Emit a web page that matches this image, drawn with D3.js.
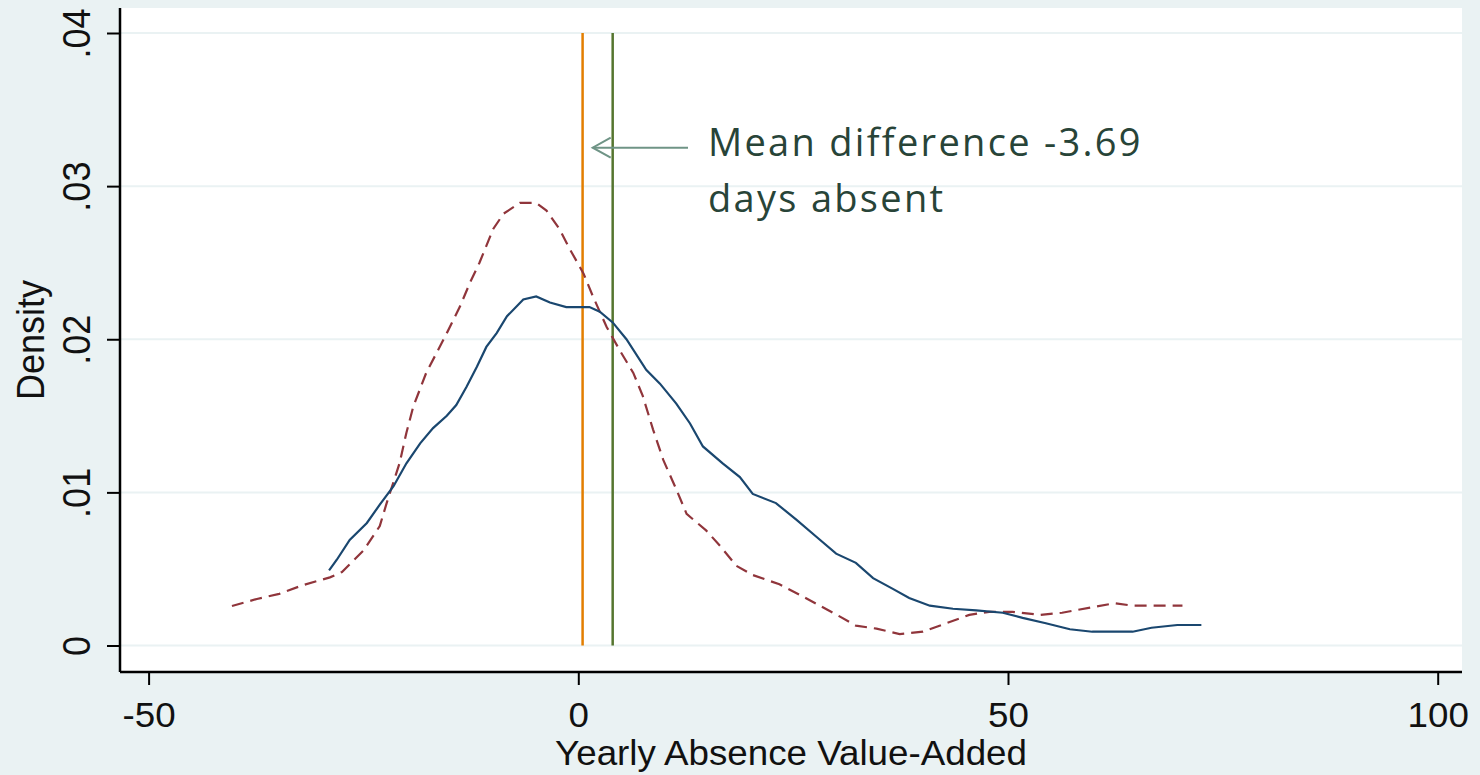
<!DOCTYPE html>
<html>
<head>
<meta charset="utf-8">
<script src="https://cdn.jsdelivr.net/npm/d3@7"></script>
<style>
  body { margin: 0; background: #eaf2f3; }
  svg { display: block; }
  .tick-label { font-family: "Liberation Sans", Arial, sans-serif; fill: #111; }
  .note { font-family: "Open Sans", Lato, sans-serif; fill: #284438; }
</style>
</head>
<body>
<div id="chart"></div>
<script>
// x ticks / y ticks
const xTicks = [-50, 0, 50, 100];
const yTicks = [0, 0.01, 0.02, 0.03, 0.04];
const yTickLabels = ['0', '.01', '.02', '.03', '.04'];

// kernel density, blue solid series
const blueX = [-29.0, -28.1, -26.6, -24.6, -23.1, -21.5, -20.0, -18.4, -16.9, -15.3, -14.2, -13.0, -11.8, -10.7,
  -9.5, -8.3, -6.4, -4.9, -3.3, -1.4, 1.3, 2.5, 4.0, 5.6, 7.9, 9.5, 11.4, 13.0, 14.5, 16.8, 18.8, 20.3,
  23.0, 25.4, 27.7, 30.0, 32.3, 34.3, 36.6, 38.5, 40.9, 43.6, 46.3, 49.4, 51.7, 54.4, 57.2, 59.8, 64.5,
  66.7, 69.7, 72.5];
const blueY = [0.0049, 0.0056, 0.0069, 0.0080, 0.0092, 0.0104, 0.0119, 0.0132, 0.0142, 0.0150, 0.0157, 0.0169,
  0.0182, 0.0195, 0.0204, 0.0215, 0.0226, 0.0228, 0.0224, 0.0221, 0.0221, 0.0218, 0.0211, 0.0200, 0.0180,
  0.0171, 0.0158, 0.0145, 0.0130, 0.0119, 0.0110, 0.0099, 0.0093, 0.0082, 0.0071, 0.0060, 0.0054, 0.0044,
  0.0037, 0.0031, 0.0026, 0.0024, 0.0023, 0.00214, 0.0018, 0.00145, 0.00106, 0.0009, 0.0009, 0.00116,
  0.00134, 0.00134];

// kernel density, red dashed series
const redX = [-40.3, -37.4, -34.8, -32.0, -28.9, -27.5, -25.0, -23.1, -22.3, -20.8, -20.0, -19.2, -17.7, -16.5,
  -15.3, -13.8, -12.6, -11.5, -10.7, -9.9, -8.7, -6.8, -4.9, -3.7, -2.2, -1.0, 0.6, 1.7, 3.3, 4.8, 6.4,
  7.5, 8.7, 9.9, 11.4, 12.6, 14.9, 16.5, 18.4, 20.3, 23.4, 25.8, 28.1, 30.4, 32.3, 34.7, 37.4, 40.1,
  42.8, 45.5, 47.8, 50.5, 53.7, 56.3, 59.8, 62.4, 64.5, 67.5, 70.3];
const redY = [0.00258, 0.00304, 0.00337, 0.00395, 0.00445, 0.0048, 0.0062, 0.0078, 0.0093, 0.0119, 0.0139,
  0.0156, 0.0178, 0.0191, 0.0204, 0.0221, 0.0237, 0.0250, 0.0261, 0.0272, 0.0282, 0.0289, 0.0289, 0.0284,
  0.0272, 0.0259, 0.0243, 0.0228, 0.0208, 0.0193, 0.0178, 0.0163, 0.0141, 0.0121, 0.0102, 0.0086, 0.0075,
  0.0065, 0.0052, 0.0046, 0.0040, 0.0033, 0.0026, 0.0019, 0.0013, 0.0011, 0.00075, 0.0009, 0.00145,
  0.0020, 0.0022, 0.0022, 0.0020, 0.00214, 0.0025, 0.00276, 0.0026, 0.0026, 0.0026];

// mean lines
const meanLines = [
  { value: 0.5, color: '#e37e00' },
  { value: 4.0, color: '#55752f' }
];
const noteLines = ['Mean difference -3.69', 'days absent'];
const xTitle = 'Yearly Absence Value-Added';
const yTitle = 'Density';

const W = 1480, H = 775;
// plot region (white box)
const plot = { left: 120, right: 1462, top: 8, bottom: 672 };

const svg = d3.select('#chart').append('svg')
  .attr('width', W)
  .attr('height', H);

svg.append('rect')
  .attr('width', W).attr('height', H)
  .attr('fill', '#eaf2f3');

svg.append('rect')
  .attr('x', plot.left).attr('y', plot.top)
  .attr('width', plot.right - plot.left)
  .attr('height', plot.bottom - plot.top)
  .attr('fill', '#ffffff');

const x = d3.scaleLinear().domain([-50, 100]).range([148.6, 1437.7]);
const y = d3.scaleLinear().domain([0, 0.04]).range([645.5, 33]);

// gridlines
svg.append('g')
  .selectAll('line')
  .data(yTicks)
  .join('line')
  .attr('x1', plot.left).attr('x2', plot.right)
  .attr('y1', d => y(d)).attr('y2', d => y(d))
  .attr('stroke', '#eaf2f3')
  .attr('stroke-width', 2);

// y axis
const yAxis = svg.append('g')
  .attr('transform', `translate(${plot.left},0)`)
  .call(d3.axisLeft(y).tickValues(yTicks).tickSize(13).tickPadding(17)
    .tickFormat((d, i) => yTickLabels[i]));
yAxis.select('.domain').attr('d', `M0,${plot.top}V${plot.bottom}`);
yAxis.selectAll('line').attr('stroke-width', 2);
yAxis.select('.domain').attr('stroke-width', 2.5);
yAxis.selectAll('text')
  .attr('class', 'tick-label')
  .attr('font-size', 36)
  .attr('x', 0).attr('dy', 0)
  .attr('text-anchor', 'middle')
  .attr('transform', 'translate(-30,0) rotate(-90) scale(1,1.08)');

// x axis
const xAxis = svg.append('g')
  .attr('transform', `translate(0,${plot.bottom})`)
  .call(d3.axisBottom(x).tickValues(xTicks).tickSize(13).tickPadding(8)
    .tickFormat(d => String(d)));
xAxis.select('.domain').attr('d', `M${plot.left},0H${plot.right}`).attr('stroke-width', 2.5);
xAxis.selectAll('line').attr('stroke-width', 2);
xAxis.selectAll('text')
  .attr('class', 'tick-label')
  .attr('font-size', 35)
  .attr('y', 55).attr('dy', 0)
  .attr('transform', 'scale(1.05,1)');

// axis titles
svg.append('text')
  .attr('class', 'tick-label')
  .attr('x', 0).attr('y', 0)
  .attr('font-size', 35)
  .attr('text-anchor', 'middle')
  .attr('transform', `translate(${(plot.left + plot.right) / 2},765) scale(1.05,1)`)
  .text(xTitle);

svg.append('text')
  .attr('class', 'tick-label')
  .attr('x', 0).attr('y', 0)
  .attr('font-size', 36)
  .attr('text-anchor', 'middle')
  .attr('transform', `translate(44,${(plot.top + plot.bottom) / 2}) rotate(-90) scale(1,1.08)`)
  .text(yTitle);

// mean lines
svg.append('g')
  .selectAll('line')
  .data(meanLines)
  .join('line')
  .attr('x1', d => x(d.value)).attr('x2', d => x(d.value))
  .attr('y1', y(0)).attr('y2', y(0.04))
  .attr('stroke', d => d.color)
  .attr('stroke-width', 2.5);

// density curves
const line = d3.line()
  .x(d => x(d[0]))
  .y(d => y(d[1]));

svg.append('path')
  .datum(redX.map((v, i) => [v, redY[i]]))
  .attr('d', line)
  .attr('fill', 'none')
  .attr('stroke', '#90353b')
  .attr('stroke-width', 2.2)
  .attr('stroke-dasharray', '12,7');

svg.append('path')
  .datum(blueX.map((v, i) => [v, blueY[i]]))
  .attr('d', line)
  .attr('fill', 'none')
  .attr('stroke', '#1a476f')
  .attr('stroke-width', 2.2);

// annotation arrow
const arrowY = 147.7;
const tipX = 592.7, tailX = 688;
const arrow = svg.append('g')
  .attr('stroke', '#6f9486')
  .attr('stroke-width', 2)
  .attr('fill', 'none');
arrow.append('line')
  .attr('x1', tailX).attr('x2', tipX)
  .attr('y1', arrowY).attr('y2', arrowY);
arrow.append('path')
  .attr('d', `M${tipX + 18},${arrowY - 10}L${tipX},${arrowY}L${tipX + 18},${arrowY + 10}`);

svg.append('g')
  .selectAll('text')
  .data(noteLines)
  .join('text')
  .attr('class', 'note')
  .attr('x', 708)
  .attr('y', (d, i) => 156 + i * 56)
  .attr('font-size', 38)
  .attr('letter-spacing', 2.3)
  .text(d => d);
</script>
</body>
</html>
